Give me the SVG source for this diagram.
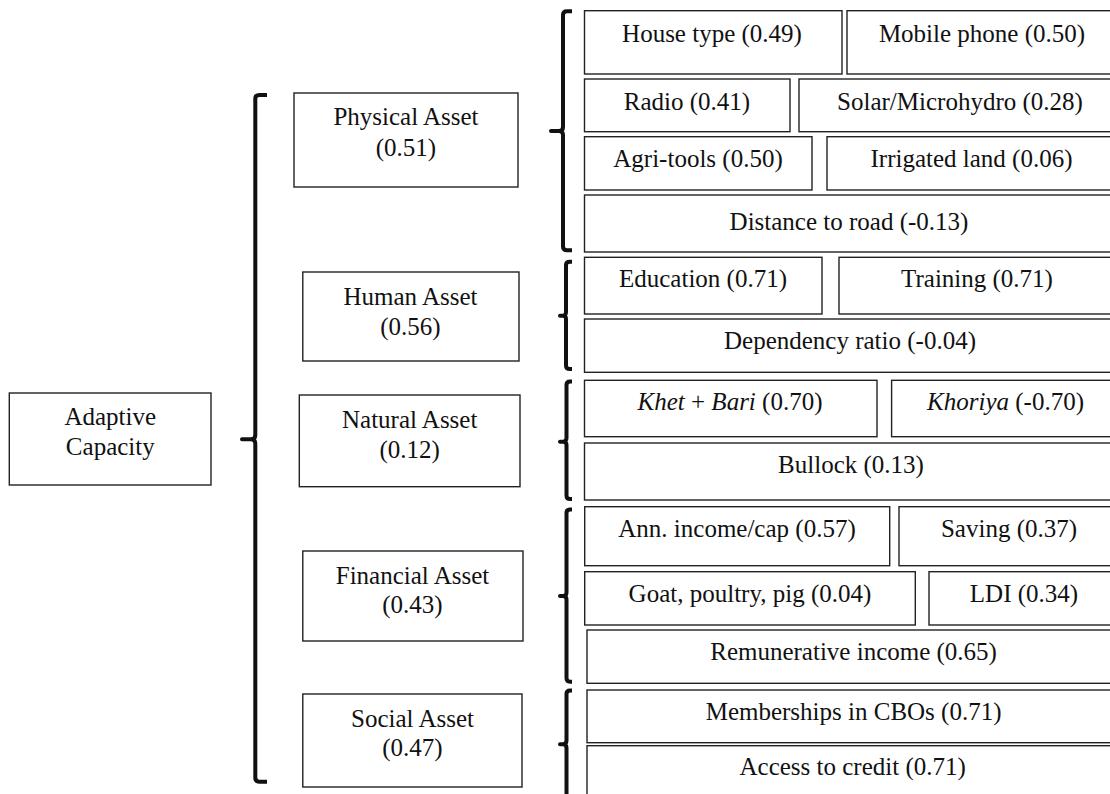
<svg xmlns="http://www.w3.org/2000/svg" width="1110" height="794" viewBox="0 0 1110 794">
<style>
.box{fill:#fff;stroke:#222;stroke-width:1.4}
.t{font-family:"Liberation Serif","Times New Roman",serif;font-size:25px;fill:#111;text-anchor:middle}
.i{font-style:italic}
.br{fill:none;stroke:#111;stroke-width:4;stroke-linejoin:round}
</style>
<rect width="1110" height="794" fill="#fff"/>
<g id="connectors">
<path class="br" d="M267,95 H259 Q255.3,95 255.3,99 V435 Q255.3,439.3 251,439.3 H242 H251 Q255.3,439.3 255.3,444 V777.5 Q255.3,781.7 259.5,781.7 H267"/>
<path class="br" d="M572,11.3 H567 Q563,11.3 563,15 V127 Q563,131 559,131 H551 H559 Q563,131 563,135 V246.5 Q563,250.3 567,250.3 H572"/>
<path class="br" d="M572,261.7 H570 Q566,261.7 566,265 V312 Q566,315.7 563,315.7 H560 H563 Q566,315.7 566,319 V365.5 Q566,369 570,369 H572"/>
<path class="br" d="M572,381.5 H570 Q566.5,381.5 566.5,385 V438 Q566.5,441.7 563,441.7 H560 H563 Q566.5,441.7 566.5,445 V495.5 Q566.5,499 570,499 H572"/>
<path class="br" d="M572,509.5 H570 Q566.5,509.5 566.5,513 V592.5 Q566.5,596 563,596 H560 H563 Q566.5,596 566.5,599.5 V678 Q566.5,681.7 570,681.7 H572"/>
<path class="br" d="M572,690.5 H570 Q566.5,690.5 566.5,694 V740.5 Q566.5,744.3 563,744.3 H560 H563 Q566.5,744.3 566.5,748 V800"/>
</g>
<g id="adaptive-capacity">
<rect class="box" x="9.3" y="393" width="201.7" height="92"/>
<text class="t" x="110.3" y="425">Adaptive</text>
<text class="t" x="110.3" y="455">Capacity</text>
</g>
<g id="physical-asset">
<rect class="box" x="294" y="93" width="224" height="94"/>
<text class="t" x="406" y="125">Physical Asset</text>
<text class="t" x="406" y="156">(0.51)</text>
</g>
<g id="human-asset">
<rect class="box" x="302.8" y="272" width="216.2" height="89"/>
<text class="t" x="410.5" y="305">Human Asset</text>
<text class="t" x="410.5" y="335">(0.56)</text>
</g>
<g id="natural-asset">
<rect class="box" x="299.3" y="395" width="220.7" height="91.7"/>
<text class="t" x="409.7" y="428">Natural Asset</text>
<text class="t" x="409.7" y="458">(0.12)</text>
</g>
<g id="financial-asset">
<rect class="box" x="302.8" y="551" width="220.2" height="90"/>
<text class="t" x="412.5" y="584">Financial Asset</text>
<text class="t" x="412.5" y="613">(0.43)</text>
</g>
<g id="social-asset">
<rect class="box" x="302.8" y="694" width="219.2" height="93"/>
<text class="t" x="412.5" y="727">Social Asset</text>
<text class="t" x="412.5" y="756">(0.47)</text>
</g>
<g id="house-type"><rect class="box" x="584.5" y="10.7" width="257.5" height="63.3"/><text class="t" x="712" y="41.7">House type (0.49)</text></g>
<g id="mobile-phone"><rect class="box" x="847" y="10.7" width="272" height="63.3"/><text class="t" x="982" y="41.7">Mobile phone (0.50)</text></g>
<g id="radio"><rect class="box" x="584.5" y="79" width="205.5" height="52.7"/><text class="t" x="687" y="110">Radio (0.41)</text></g>
<g id="solar"><rect class="box" x="799" y="79" width="320" height="52.7"/><text class="t" x="960" y="110">Solar/Microhydro (0.28)</text></g>
<g id="agri-tools"><rect class="box" x="584.5" y="136.7" width="227.5" height="53.3"/><text class="t" x="698" y="166.7">Agri-tools (0.50)</text></g>
<g id="irrigated-land"><rect class="box" x="827" y="136.7" width="292" height="53.3"/><text class="t" x="971.5" y="166.7">Irrigated land (0.06)</text></g>
<g id="distance-road"><rect class="box" x="584.5" y="195" width="534.5" height="57"/><text class="t" x="849" y="230">Distance to road (-0.13)</text></g>
<g id="education"><rect class="box" x="584.5" y="257.3" width="237.5" height="56.7"/><text class="t" x="703" y="286.7">Education (0.71)</text></g>
<g id="training"><rect class="box" x="839" y="257.3" width="280" height="56.7"/><text class="t" x="977" y="286.7">Training (0.71)</text></g>
<g id="dependency"><rect class="box" x="584.5" y="319" width="534.5" height="53.3"/><text class="t" x="850" y="349.3">Dependency ratio (-0.04)</text></g>
<g id="khet-bari"><rect class="box" x="584.5" y="380.3" width="292.5" height="56.4"/><text class="t" x="730" y="410"><tspan class="i">Khet</tspan> + <tspan class="i">Bari</tspan> (0.70)</text></g>
<g id="khoriya"><rect class="box" x="891.6" y="380.3" width="227.4" height="56.4"/><text class="t" x="1005.5" y="410"><tspan class="i">Khoriya</tspan> (-0.70)</text></g>
<g id="bullock"><rect class="box" x="584.5" y="443" width="534.5" height="57"/><text class="t" x="851" y="473">Bullock (0.13)</text></g>
<g id="ann-income"><rect class="box" x="584.7" y="506.7" width="305" height="59"/><text class="t" x="737" y="536.7">Ann. income/cap (0.57)</text></g>
<g id="saving"><rect class="box" x="899" y="506.7" width="220" height="59"/><text class="t" x="1009" y="536.7">Saving (0.37)</text></g>
<g id="goat"><rect class="box" x="584.7" y="571.7" width="330.6" height="53.3"/><text class="t" x="750" y="601.7">Goat, poultry, pig (0.04)</text></g>
<g id="ldi"><rect class="box" x="929" y="571.7" width="190" height="53.3"/><text class="t" x="1024" y="601.7">LDI (0.34)</text></g>
<g id="remunerative"><rect class="box" x="587" y="630" width="532" height="53.3"/><text class="t" x="853.6" y="660">Remunerative income (0.65)</text></g>
<g id="memberships"><rect class="box" x="587" y="690" width="532" height="52.7"/><text class="t" x="853.6" y="720">Memberships in CBOs (0.71)</text></g>
<g id="access-credit"><rect class="box" x="587" y="745.7" width="532" height="60"/><text class="t" x="852.7" y="775">Access to credit (0.71)</text></g>
</svg>
